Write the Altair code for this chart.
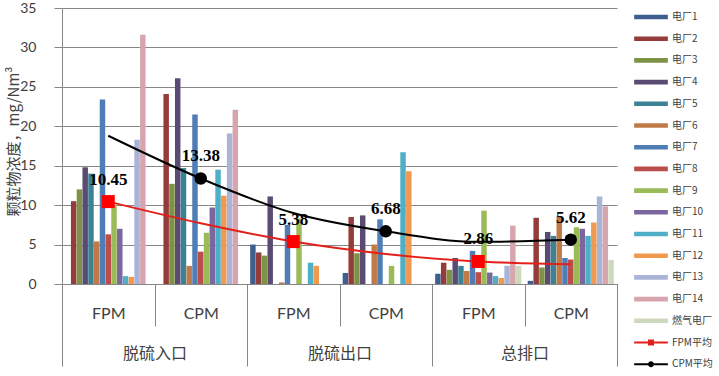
import altair as alt
import pandas as pd

# ---------------- data ----------------
stages = ["脱硫入口", "脱硫出口", "总排口"]
categories = ["FPM1", "CPM1", "FPM2", "CPM2", "FPM3", "CPM3"]

plants = ["电厂1", "电厂2", "电厂3", "电厂4", "电厂5", "电厂6", "电厂7",
          "电厂8", "电厂9", "电厂10", "电厂11", "电厂12", "电厂13", "电厂14", "燃气电厂"]
plant_colors = ["#3E5F8E", "#933C3A", "#7F9347", "#5A4B73", "#3C8295", "#C07A48", "#4F7DB5",
                "#BA4E4A", "#9BBB59", "#7C66A0", "#4FAFC6", "#F0994F", "#A9B4D6", "#D6A5AD", "#CDD8BC"]

# values per plant, in category order FPM/CPM x 3 stages
p1 = [0, 0, 5.0, 1.4, 1.3, 0.4]
p2 = [10.5, 24.1, 4.0, 8.5, 2.7, 8.4]
p3 = [12.0, 12.7, 3.6, 3.9, 1.8, 2.1]
p4 = [14.8, 26.1, 11.1, 8.7, 3.3, 6.6]
p5 = [14.0, 14.7, 0, 0, 2.3, 6.1]
p6 = [5.4, 2.3, 0.2, 5.0, 1.65, 8.6]
p7 = [23.4, 21.5, 7.5, 8.2, 4.2, 3.3]
p8 = [6.3, 4.1, 0, 0, 1.5, 3.1]
p9 = [10.0, 6.5, 8.3, 2.3, 9.3, 7.2]
p10 = [7.0, 9.7, 0, 0, 1.45, 7.0]
p11 = [1.0, 14.5, 2.7, 16.7, 1.0, 6.1]
p12 = [0.9, 11.2, 2.3, 14.3, 0.76, 7.8]
p13 = [18.3, 19.1, 0, 0, 2.3, 11.1]
p14 = [31.6, 22.1, 0, 0, 7.4, 9.85]
p15 = [0, 0, 0, 0, 2.3, 3.05]
plant_values = [p1, p2, p3, p4, p5, p6, p7, p8, p9, p10, p11, p12, p13, p14, p15]

avg_names = ["FPM平均", "CPM平均"]
avg_colors = ["#E3201B", "#000000"]
fpm_avg_curve = [10.45, 7.7, 5.38, 3.8, 2.86, 2.5]
cpm_avg_curve = [18.8, 13.38, 9.0, 6.68, 5.35, 5.62]
fpm_avg_cats = ["FPM1", "FPM2", "FPM3"]
fpm_avg_vals = [10.45, 5.38, 2.86]
cpm_avg_cats = ["CPM1", "CPM2", "CPM3"]
cpm_avg_vals = [13.38, 6.68, 5.62]

# ---------------- tables ----------------
bar_df = pd.DataFrame([
    {"cat": c, "series": p, "value": v}
    for p, vals in zip(plants, plant_values)
    for c, v in zip(categories, vals)
])
fpm_line_df = pd.DataFrame({"cat": categories, "value": fpm_avg_curve})
cpm_line_df = pd.DataFrame({"cat": categories, "value": cpm_avg_curve})
fpm_pt_df = pd.DataFrame({"cat": fpm_avg_cats, "value": fpm_avg_vals,
                          "label": [f"{v:.2f}" for v in fpm_avg_vals]})
cpm_pt_df = pd.DataFrame({"cat": cpm_avg_cats, "value": cpm_avg_vals,
                          "label": [f"{v:.2f}" for v in cpm_avg_vals]})
stage_df = pd.DataFrame({"stage": stages})
legend_df = pd.DataFrame({"series": plants + avg_names, "cat": "FPM1", "value": 0})

all_series = plants + avg_names
all_colors = plant_colors + avg_colors
bar_path = "M-3.37,-0.46H3.37V0.46H-3.37Z"
fpm_path = "M-3.37,-0.2H3.37V0.2H-3.37Z M-0.6,-0.6H0.6V0.6H-0.6Z"
cpm_path = "M-3.37,-0.2H3.37V0.2H-3.37Z M-0.6,0A0.6,0.6 0 1,1 0.6,0A0.6,0.6 0 1,1 -0.6,0Z"
all_paths = [bar_path] * len(plants) + [fpm_path, cpm_path]

GRAY = "#878787"
TXT = "#404040"

x_scale = alt.Scale(domain=categories, paddingInner=0, paddingOuter=0)
y_scale = alt.Scale(domain=[0, 35], nice=False)

x_axis = alt.Axis(
    orient="bottom", title=None, labelExpr="slice(datum.label, 0, 3)",
    tickBand="extent", ticks=True, tickSize=42, tickColor=GRAY, domainColor=GRAY,
    labelPadding=-13, labelBaseline="middle", labelAngle=0, labelFont="Lato",
    labelFontSize=16, labelColor=TXT, grid=False,
)
y_axis = alt.Axis(
    values=[0, 5, 10, 15, 20, 25, 30, 35], grid=True, gridColor=GRAY, domainColor=GRAY,
    tickColor=GRAY, tickSize=8, labelPadding=18, labelFont="Lato", labelFontSize=14,
    labelColor=TXT, title="颗粒物浓度，mg/Nm³", titleFont="Noto Sans CJK SC",
    titleFontSize=15, titleFontWeight="normal", titleColor=TXT, titleX=-41, titleY=133,
)

X = alt.X("cat:N", scale=x_scale, axis=x_axis, title=None, bandPosition=0.5)
Y = alt.Y("value:Q", scale=y_scale, axis=y_axis)

bars = alt.Chart(bar_df).mark_bar().encode(
    x=alt.X("cat:N", scale=x_scale, axis=x_axis, title=None),
    xOffset=alt.XOffset("series:N", scale=alt.Scale(domain=plants, paddingInner=0.05, paddingOuter=0.55)),
    y=Y,
    color=alt.Color("series:N", scale=alt.Scale(domain=plants, range=plant_colors), legend=None),
)

fpm_line = alt.Chart(fpm_line_df).mark_line(color=avg_colors[0], strokeWidth=2, interpolate="monotone").encode(x=X, y=Y)
cpm_line = alt.Chart(cpm_line_df).mark_line(color=avg_colors[1], strokeWidth=2, interpolate="monotone").encode(x=X, y=Y)
fpm_pts = alt.Chart(fpm_pt_df).mark_point(filled=True, shape="square", size=170, opacity=1,
                                          color="#FF0000").encode(x=X, y=Y)
cpm_pts = alt.Chart(cpm_pt_df).mark_point(filled=True, shape="circle", size=156, opacity=1,
                                          color="#000000").encode(x=X, y=Y)
lab_style = dict(dy=-22, fontSize=17, fontWeight="bold", font="Liberation Serif", color="#000000")
fpm_lab = alt.Chart(fpm_pt_df).mark_text(**lab_style).encode(x=X, y=Y, text="label:N")
cpm_lab = alt.Chart(cpm_pt_df).mark_text(**lab_style).encode(x=X, y=Y, text="label:N")

legend = alt.Legend(
    title=None, orient="none", legendX=584, legendY=4, padding=0, symbolSize=100,
    symbolStrokeWidth=0, labelFont="Noto Sans CJK SC", labelFontSize=10, labelColor=TXT,
    rowPadding=11.7, labelOffset=16, columns=1,
)
legend_layer = alt.Chart(legend_df).mark_point(filled=True, opacity=1).encode(
    x=X, y=Y,
    color=alt.Color("series:N", scale=alt.Scale(domain=all_series, range=all_colors), legend=legend),
    shape=alt.Shape("series:N", scale=alt.Scale(domain=all_series, range=all_paths), legend=legend),
).transform_filter("false")

main = alt.layer(bars, fpm_line, cpm_line, fpm_pts, cpm_pts, fpm_lab, cpm_lab, legend_layer).resolve_scale(
    color="independent", shape="independent")

stage_axis = alt.Axis(
    orient="bottom", title=None, tickBand="extent", ticks=True, tickSize=82, tickColor=GRAY,
    domain=False, labelPadding=-13, labelBaseline="middle", labelAngle=0,
    labelFont="Noto Sans CJK SC", labelFontSize=16, labelColor=TXT, grid=False,
)
stage_layer = alt.Chart(stage_df).mark_point(opacity=0).encode(
    x=alt.X("stage:N", scale=alt.Scale(domain=stages, paddingInner=0, paddingOuter=0), axis=stage_axis),
    y=alt.value(0),
)

chart = alt.layer(main, stage_layer).resolve_scale(x="independent").resolve_axis(x="independent").properties(
    width=555, height=276,
    padding={"left": 62, "top": 8, "right": 102, "bottom": 92},
    autosize=alt.AutoSizeParams(type="none"),
    background="white",
).configure_view(stroke=None)

chart.save("out.html", embed_options={"renderer": "svg", "actions": False})
